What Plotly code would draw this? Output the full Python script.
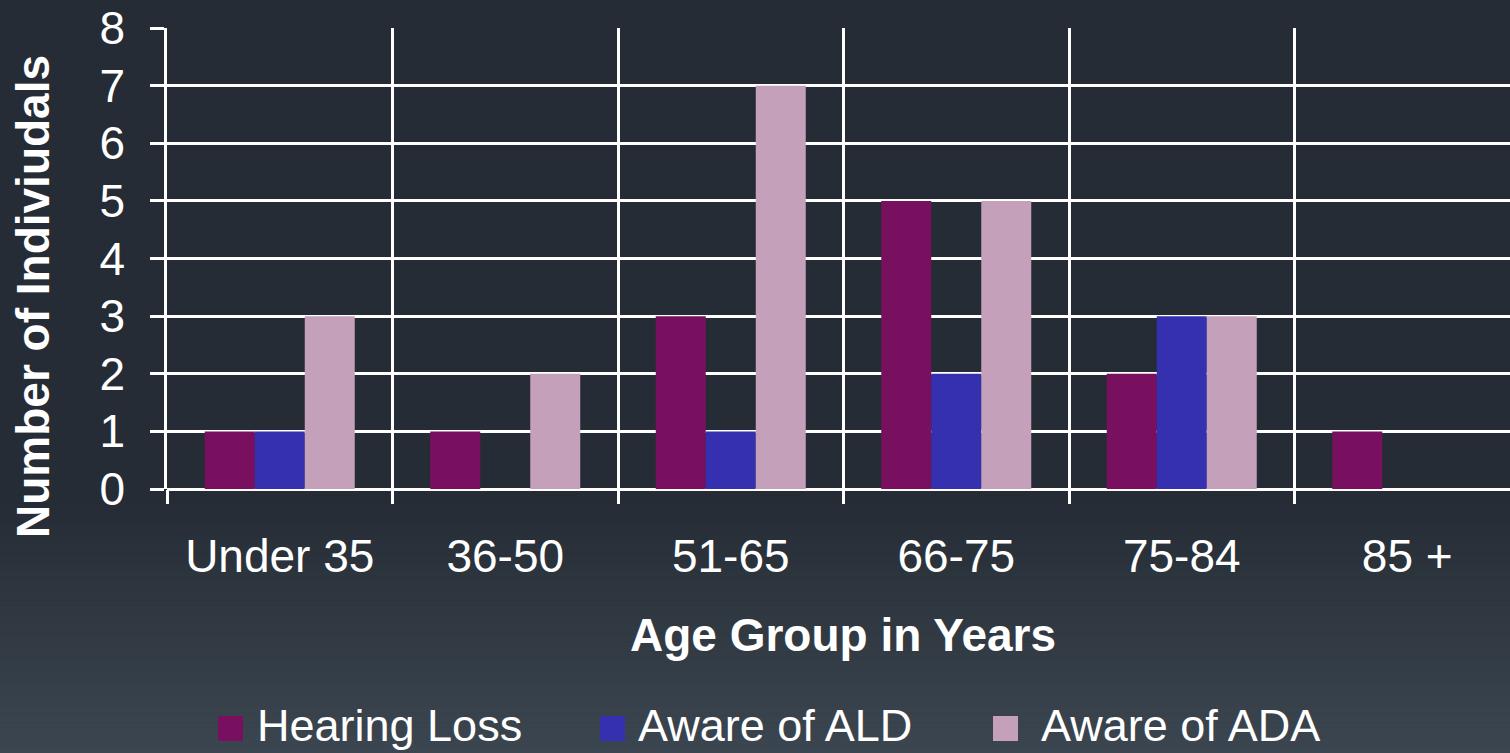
import plotly.graph_objects as go

# ---- data ----
categories = ["Under 35", "36-50", "51-65", "66-75", "75-84", "85 +"]
hearing_loss = [1, 1, 3, 5, 2, 1]
aware_ald = [1, 0, 1, 2, 3, 0]
aware_ada = [3, 2, 7, 5, 3, 0]
series_names = ["Hearing Loss", "Aware of ALD", "Aware of ADA"]
y_ticks = [0, 1, 2, 3, 4, 5, 6, 7, 8]

colors = ["#78105F", "#3430AF", "#C4A0BA"]
FONT = "Liberation Sans, Arial, sans-serif"
W, H = 1510, 753
ML, MT, MB, MR = 167, 28, 264, 0
PW = W - ML - MR
PH = H - MT - MB


def px_x(px):
    return (px - ML) / PW


def px_y(py):
    return (H - MB - py) / PH


fig = go.Figure()
for name, vals, col in zip(series_names, [hearing_loss, aware_ald, aware_ada], colors):
    fig.add_trace(go.Bar(x=categories, y=vals, name=name,
                         marker=dict(color=col, line=dict(width=0)),
                         showlegend=False))

# background gradient (paper shapes below everything)
shapes = []
top_col = (0x25, 0x2C, 0x35)
bot_col = (0x3C, 0x46, 0x50)
shapes.append(dict(type="rect", xref="paper", yref="paper", layer="below",
                   x0=px_x(0), x1=px_x(W), y0=px_y(0), y1=px_y(500),
                   fillcolor="rgb(%d,%d,%d)" % top_col, line=dict(width=0)))
n = 50
g0, g1 = 500, H
for i in range(n):
    a = g0 + (g1 - g0) * i / n
    b = g0 + (g1 - g0) * (i + 1) / n
    t = (i + 0.5) / n
    c = tuple(int(round(top_col[k] + (bot_col[k] - top_col[k]) * t)) for k in range(3))
    shapes.append(dict(type="rect", xref="paper", yref="paper", layer="below",
                       x0=px_x(0), x1=px_x(W), y0=px_y(b), y1=px_y(a - 0.5),
                       fillcolor="rgb(%d,%d,%d)" % c, line=dict(width=0)))

# manual legend squares and labels
legend_sq_x = [218, 600, 993]
legend_txt_x = [255, 636, 1039]
annotations = []
for sx, tx, nm, col in zip(legend_sq_x, legend_txt_x, series_names, colors):
    shapes.append(dict(type="rect", xref="paper", yref="paper",
                       x0=px_x(sx), x1=px_x(sx + 25), y0=px_y(741), y1=px_y(716),
                       fillcolor=col, line=dict(width=0)))
    annotations.append(dict(text=nm, xref="paper", yref="paper", x=px_x(tx), y=px_y(725),
                            xanchor="left", yanchor="middle", showarrow=False,
                            font=dict(family=FONT, size=45, color="white")))

# axis titles
annotations.append(dict(text="Age Group in Years", xref="paper", yref="paper",
                        x=px_x(843), y=px_y(635), xanchor="center", yanchor="middle",
                        showarrow=False,
                        font=dict(family=FONT, size=46, color="white", weight="bold")))
annotations.append(dict(text="Number of Indiviudals", xref="paper", yref="paper",
                        x=px_x(33), y=px_y(297), xanchor="center", yanchor="middle",
                        textangle=-90, showarrow=False,
                        font=dict(family=FONT, size=46, color="white", weight="bold")))

fig.update_layout(
    width=W, height=H,
    margin=dict(l=ML, r=MR, t=MT, b=MB, pad=0),
    paper_bgcolor="rgb(37,44,53)",
    plot_bgcolor="rgba(0,0,0,0)",
    barmode="group", bargap=1 - 150 / 225.5, bargroupgap=0,
    shapes=shapes, annotations=annotations,
    font=dict(family=FONT, color="white", size=46),
    showlegend=False,
)
fig.update_xaxes(
    range=[-0.5, -0.5 + PW / 225.5],
    tickson="boundaries", ticks="outside", ticklen=14, tickwidth=2.5, tickcolor="white",
    showgrid=True, gridcolor="white", gridwidth=2.5,
    showline=False, zeroline=False,
    ticklabelstandoff=36,
    tickfont=dict(family=FONT, size=46, color="white"),
)
fig.update_yaxes(
    range=[0, 8], tickvals=y_ticks, ticks="outside", ticklen=14, tickwidth=2.5,
    tickcolor="white", showgrid=True, gridcolor="white", gridwidth=2.5,
    showline=True, linecolor="white", linewidth=2.5,
    zeroline=True, zerolinecolor="white", zerolinewidth=2.5,
    ticklabelstandoff=16,
    tickfont=dict(family=FONT, size=46, color="white"),
)

fig.write_html("out.html",
               config={"displayModeBar": False},
               post_script="document.body.style.margin='0';document.body.style.overflow='hidden';")
